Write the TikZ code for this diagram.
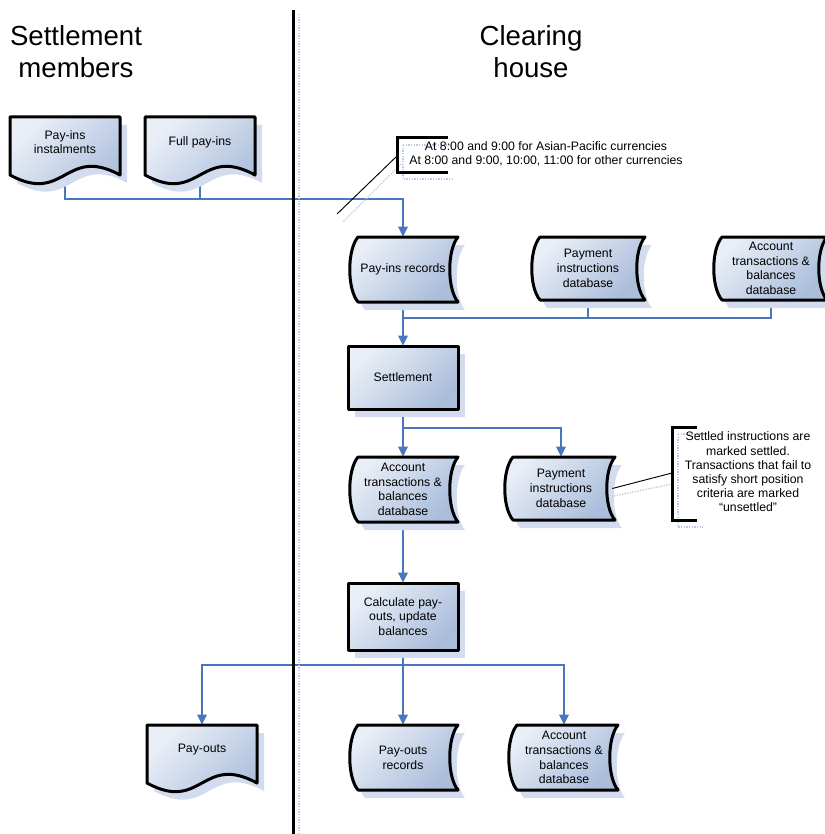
\documentclass[tikz,border=0pt]{standalone}
\usepackage{fontspec}
\setmainfont{Liberation Sans}
\usetikzlibrary{arrows.meta,patterns}
\definecolor{fillA}{HTML}{EAEFF7}
\definecolor{fillB}{HTML}{AABDDB}
\definecolor{shadowc}{HTML}{9DB3DB}
\definecolor{shadowbg}{HTML}{D2DCEE}
\definecolor{connc}{HTML}{4A76C0}
\pgfdeclarelayer{bg}
\pgfsetlayers{bg,main}
\tikzset{
  shapeline/.style={draw=black, line width=2.25pt, line join=round, top color=fillA, bottom color=fillB, shading angle=45},
  shadowfill/.style={fill=shadowbg},
  boxtext/.style={font=\fontsize{9.2}{11}\selectfont, align=center, inner sep=0pt, text=black},
  conn/.style={draw=connc, line width=1.5pt},
  arrow/.style={conn, -{Triangle[length=7.5pt,width=7pt]}},
  bracket/.style={draw=black, line width=2.25pt},
  leader/.style={draw=black, line width=0.7pt},
  shadowline/.style={draw=shadowc!70, line width=1pt, dash pattern=on 1pt off 1pt},
  header/.style={font=\fontsize{20.7}{24}\selectfont, align=center, inner sep=0pt},
}
% document shape: name, x0, y0, w, text
\newcommand\docshp[5]{%
  \fill[shadowfill] (#2+7,#3+8) -- (#2+#4+7,#3+8) -- (#2+#4+7,#3+66) .. controls (#2+0.5*#4+7,#3+36) and (#2+0.5*#4+7,#3+96) .. (#2+7,#3+66) -- cycle;
  \path[shapeline] (#2,#3) -- (#2+#4,#3) -- (#2+#4,#3+58) .. controls (#2+0.5*#4,#3+28) and (#2+0.5*#4,#3+88) .. (#2,#3+58) -- cycle;
  \node[boxtext, minimum width={#4*0.75pt}, minimum height={50*0.75pt}] (#1) at (#2+0.5*#4,#3+25) {#5};
}
% stored data shape: name, x0, y0, w, h, cx, text
\newcommand\storeshp[7]{%
  \fill[shadowfill] (#2+7,#3+8) -- (#2+#4+7,#3+8) .. controls (#2+#4-4,#3+8+0.2*#5) and (#2+#4-4,#3+8+0.8*#5) .. (#2+#4+7,#3+#5+8) -- (#2+7,#3+#5+8) .. controls (#2-4,#3+8+0.8*#5) and (#2-4,#3+8+0.2*#5) .. (#2+7,#3+8) -- cycle;
  \path[shapeline] (#2,#3) -- (#2+#4,#3) .. controls (#2+#4-11,#3+0.2*#5) and (#2+#4-11,#3+0.8*#5) .. (#2+#4,#3+#5) -- (#2,#3+#5) .. controls (#2-11,#3+0.8*#5) and (#2-11,#3+0.2*#5) .. (#2,#3) -- cycle;
  \node[boxtext, minimum width={#4*0.75pt}, minimum height={#5*0.75pt}] (#1) at (#6,#3+0.5*#5) {#7};
}
% process box: name, x0, y0, w, h, text
\newcommand\procshp[6]{%
  \fill[shadowfill] (#2+7,#3+8) rectangle (#2+#4+7,#3+#5+8);
  \path[shapeline] (#2,#3) rectangle (#2+#4,#3+#5);
  \node[boxtext, minimum width={#4*0.75pt}, minimum height={#5*0.75pt}] (#1) at (#2+0.5*#4,#3+0.5*#5) {#6};
}
\begin{document}
\begin{tikzpicture}[x=0.75pt,y=-0.75pt]
\useasboundingbox (0,0) rectangle (824,834);

% headers
\node[header] (hdrL) at (76,52) {Settlement\\members};
\node[header] (hdrR) at (531,52) {Clearing\\house};

% separator
\draw[shadowline] (299,14) -- (299,834);
\draw[line width=2.25pt] (293,10) -- (293,834);

% shapes
\docshp{payinst}{10}{117}{110}{Pay-ins\\instalments}
\docshp{fullpay}{145}{117}{110}{Full pay-ins}
\docshp{payouts}{147}{725}{110}{Pay-outs}

\storeshp{payrec}{358}{237}{100}{65}{403}{Pay-ins records}
\storeshp{payinstrA}{540}{237}{105}{63}{588}{Payment\\instructions\\database}
\storeshp{acctA}{722}{237}{105}{63}{771}{Account\\transactions \&\\balances\\database}
\storeshp{acctB}{358}{457}{100}{65}{403}{Account\\transactions \&\\balances\\database}
\storeshp{payinstrB}{513}{457}{102}{63}{561}{Payment\\instructions\\database}
\storeshp{payoutrec}{358}{725}{100}{65}{403}{Pay-outs\\records}
\storeshp{acctC}{517}{725}{101}{65}{564}{Account\\transactions \&\\balances\\database}

\procshp{settle}{348}{346}{110}{63}{Settlement}
\procshp{calc}{348}{583}{110}{67}{Calculate pay-\\outs, update\\balances}

% junctions
\coordinate (j1) at (403,199);
\coordinate (j2) at (403,318);
\coordinate (j3) at (403,428);
\coordinate (j4) at (403,665);

% connectors (under the shapes)
\begin{pgfonlayer}{bg}
\draw[arrow] (payinst.south) |- (j1) -- (payrec.north);
\draw[conn] (fullpay.south) -- (fullpay.south |- j1);
\draw[arrow] (payrec.south) -- (settle.north);
\draw[conn] (payinstrA.south) |- (j2);
\draw[conn] (acctA.south) |- (j2);
\draw[arrow] (settle.south) -- (acctB.north);
\draw[arrow] (j3) -| (payinstrB.north);
\draw[arrow] (acctB.south) -- (calc.north);
\draw[arrow] (calc.south) -- (payoutrec.north);
\draw[arrow] (j4) -| (payouts.north);
\draw[arrow] (j4) -| (acctC.north);
\end{pgfonlayer}

% annotation 1
\draw[shadowline] (403,145) -- (452,145);
\draw[shadowline] (403,145) -- (403,179) -- (454,179);
\draw[shadowline] (401,164) -- (343,222);
\draw[bracket] (448,138) -- (397,138) -- (397,173) -- (448,173);
\coordinate (br1) at (397,156);
\coordinate (lead1) at (337,214);
\draw[leader] (lead1) -- (br1);
\node[boxtext, font=\fontsize{9.2}{10.9}\selectfont] (note1) at (546,154) {At 8:00 and 9:00 for Asian-Pacific currencies\\At 8:00 and 9:00, 10:00, 11:00 for other currencies};

% annotation 2
\draw[shadowline] (678,434) -- (678,527) -- (703,527);
\draw[shadowline] (678,434) -- (702,434);
\draw[shadowline] (614,496) -- (672,484);
\draw[bracket] (697,427) -- (672,427) -- (672,520) -- (697,520);
\coordinate (br2) at (672,473);
\draw[leader] (payinstrB.east) -- (br2);
\node[boxtext, font=\fontsize{9.2}{10.65}\selectfont] (note2) at (748,472) {Settled instructions are\\marked settled.\\Transactions that fail to\\satisfy short position\\criteria are marked\\“unsettled”};
\end{tikzpicture}
\end{document}
